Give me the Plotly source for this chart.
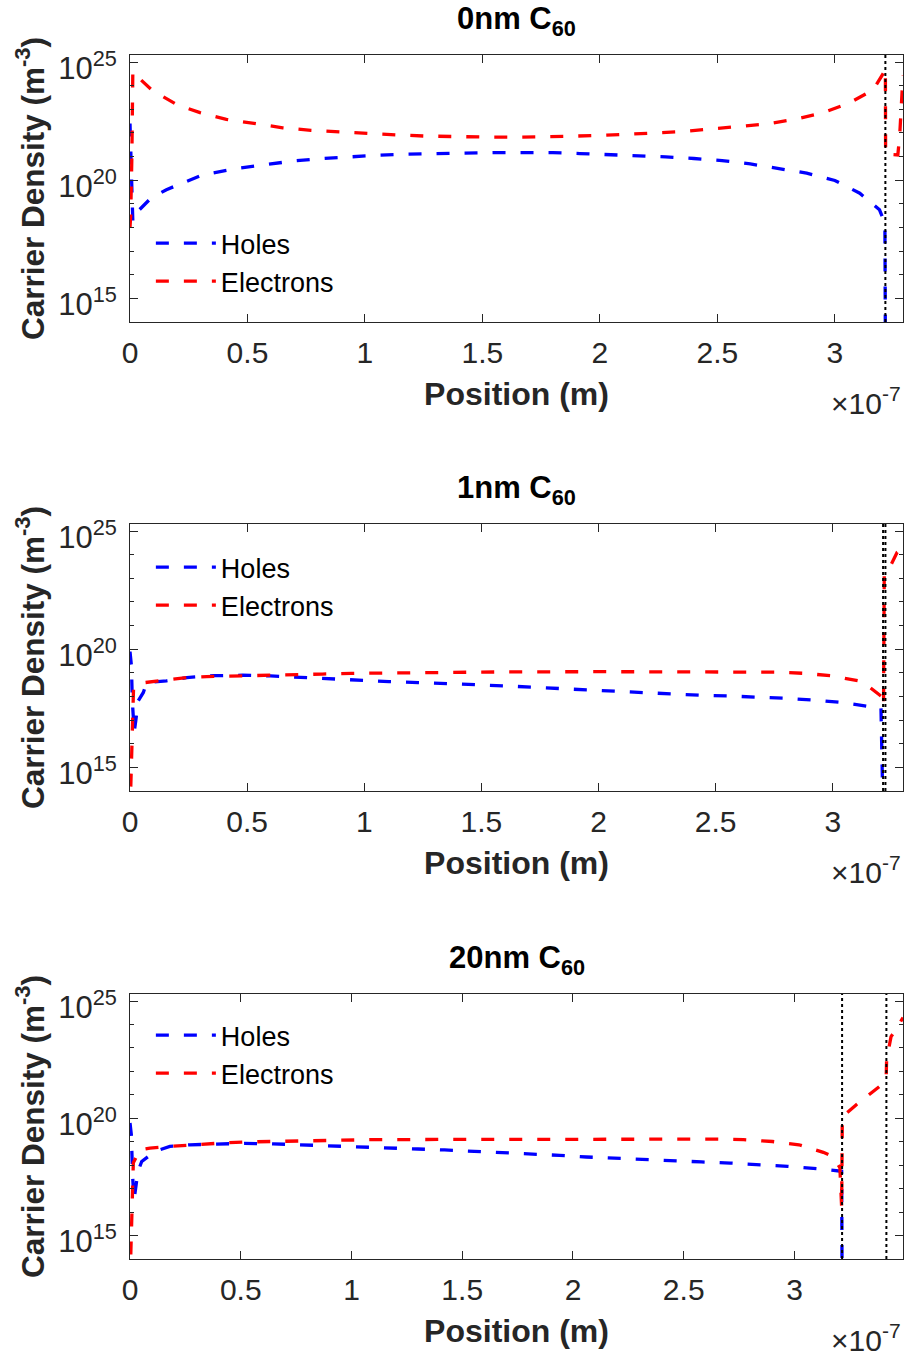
import plotly.graph_objects as go

# ---------------- data (position in nm, density as log10 of m^-3) ----------------
titles = ["0nm C<sub>60</sub>", "1nm C<sub>60</sub>", "20nm C<sub>60</sub>"]
x_max_nm = [329, 330, 349]
boundaries_nm = [[321.5], [321.5, 322.5], [321.5, 341.5]]
x_tick_vals_e7 = [0, 0.5, 1, 1.5, 2, 2.5, 3]
x_tick_text = ["0", "0.5", "1", "1.5", "2", "2.5", "3"]
y_tick_exp = [15, 20, 25]
y_minor_exp = [16, 17, 18, 19, 21, 22, 23, 24]

# 0 nm C60
holes0_x = [0, 0.4, 0.8, 1.2, 4, 9, 15.5, 22.5, 31, 46, 58, 70, 82, 94, 106, 118, 130, 143, 155,
            167, 180, 191.5, 203.5, 216, 228, 240, 252, 264, 276, 288, 300, 310.6, 319, 321.3, 321.5]
holes0_log = [22.4, 20.8, 19.0, 18.25, 18.75, 19.25, 19.6, 19.9, 20.23, 20.51, 20.68, 20.82, 20.92,
              21.0, 21.06, 21.10, 21.13, 21.16, 21.17, 21.17, 21.17, 21.13, 21.09, 21.05, 20.99,
              20.92, 20.83, 20.69, 20.51, 20.30, 19.99, 19.45, 18.75, 18.18, 13.0]
elec0_x = [0, 0.3, 0.8, 1.2, 3, 9.5, 20, 29.8, 41, 53, 65, 77, 89, 101, 113.5, 125.5, 137.5, 150,
           162, 174.5, 186, 199, 211, 223, 235, 247, 259, 271, 283, 295, 306, 316.3, 320.6, 321.5,
           321.6, 326.8, 327.6, 328.2, 329]
elec0_log = [18.0, 18.5, 21.0, 24.6, 24.4, 23.8, 23.2, 22.86, 22.58, 22.41, 22.22, 22.11, 22.04,
             21.97, 21.92, 21.87, 21.84, 21.83, 21.82, 21.83, 21.86, 21.89, 21.93, 22.0, 22.06,
             22.16, 22.25, 22.38, 22.58, 22.86, 23.26, 23.82, 24.52, 24.73, 21.10, 21.07, 21.9,
             23.0, 24.45]

# 1 nm C60
holes1_x = [0, 0.6, 1.0, 1.8, 2.5, 3.5, 5.7, 7.1, 15.6, 24.2, 35.6, 48, 60, 73.6, 86, 98, 110.6,
            123, 135.3, 147.7, 160, 172, 184.7, 196, 208.5, 220, 231, 243.6, 256, 268.4, 280.7,
            293, 304.4, 316.8, 320.6, 321.5]
holes1_log = [19.9, 19.3, 17.8, 16.5, 17.0, 17.81, 18.17, 18.59, 18.66, 18.80, 18.88, 18.90, 18.87,
              18.80, 18.74, 18.69, 18.63, 18.59, 18.55, 18.50, 18.45, 18.39, 18.33, 18.26, 18.21,
              18.14, 18.09, 18.05, 18.02, 17.98, 17.92, 17.84, 17.74, 17.56, 17.50, 13.0]
elec1_x = [0, 0.5, 1.0, 1.5, 3, 6.5, 15.6, 24.2, 32.7, 45, 57.4, 69.8, 82, 94.5, 106.8, 119, 131.5,
           160, 200, 240, 267, 276, 288, 300, 311, 315, 320.6, 321.7, 322.0, 325, 327.5, 330]
elec1_log = [13.0, 14.5, 16.5, 18.3, 18.5, 18.59, 18.70, 18.80, 18.84, 18.86, 18.90, 18.93, 18.95,
             18.98, 18.99, 19.01, 19.03, 19.04, 19.05, 19.05, 19.05, 19.03, 18.98, 18.87, 18.66,
             18.45, 18.02, 17.6, 23.2, 23.6, 24.1, 24.3]

# 20 nm C60
holes20_x = [0, 0.6, 1.2, 1.8, 3.6, 5.3, 11.3, 18, 27, 37.4, 51.6, 64.7, 77.7, 90.8, 104, 117, 130,
             142, 155, 168, 181, 194, 206, 219, 233, 245.6, 258, 271, 284, 297, 310, 319, 321.3,
             321.5]
holes20_log = [19.8, 19.3, 17.5, 16.5, 17.74, 18.16, 18.59, 18.80, 18.87, 18.91, 18.93, 18.91,
               18.86, 18.83, 18.79, 18.73, 18.69, 18.65, 18.60, 18.55, 18.49, 18.42, 18.35, 18.29,
               18.23, 18.18, 18.14, 18.09, 18.03, 17.95, 17.85, 17.77, 17.74, 13.0]
elec20_x = [0, 0.5, 1.0, 1.5, 4.5, 9, 18, 31.6, 43.6, 57.7, 71.7, 83.8, 98, 110, 150, 200, 265, 277,
            290, 302, 313, 317.3, 320.5, 321.3, 321.6, 327.8, 338.3, 341.4, 341.6, 343.6, 346.6,
            349]
elec20_log = [13.0, 15.0, 17.0, 18.1, 18.66, 18.73, 18.80, 18.90, 18.96, 19.0, 19.03, 19.06, 19.07,
              19.09, 19.10, 19.11, 19.11, 19.09, 19.01, 18.87, 18.55, 18.37, 17.9, 16.2, 20.06,
              20.57, 21.35, 21.7, 22.5, 23.48, 23.9, 24.3]

panels = [
    (holes0_x, holes0_log, elec0_x, elec0_log),
    (holes1_x, holes1_log, elec1_x, elec1_log),
    (holes20_x, holes20_log, elec20_x, elec20_log),
]

# ---------------- layout geometry ----------------
W, H = 904, 1356
ML, MR = 130, 1
rows_px = [(55, 322), (524, 791), (994, 1259)]  # top, bottom of each plot area
legend_top_px = [219, 543, 1011]
y_range = [14.0, 25.3]
FONT = "Liberation Sans, Arial, Helvetica, sans-serif"
AX = "#262626"
BLUE = "#0000FF"
RED = "#FF0000"
DASH = "13px,15px"

fig = go.Figure()
annotations = []
shapes = []
layout = dict(
    width=W, height=H,
    margin=dict(l=ML, r=MR, t=0, b=0, pad=0, autoexpand=False),
    paper_bgcolor="white", plot_bgcolor="white",
    font=dict(family=FONT, size=30, color=AX),
    showlegend=True,
)

for i, (hx, hl, ex, el) in enumerate(panels):
    sfx = "" if i == 0 else str(i + 1)
    xa, ya = "x" + sfx, "y" + sfx
    leg = "legend" + sfx
    top, bot = rows_px[i]
    dom = [1 - bot / H, 1 - top / H]

    fig.add_trace(go.Scatter(
        x=[v * 1e-9 for v in hx], y=[10.0 ** v for v in hl], mode="lines", name="Holes",
        line=dict(color=BLUE, width=3.3, dash=DASH), xaxis=xa, yaxis=ya, legend=leg))
    fig.add_trace(go.Scatter(
        x=[v * 1e-9 for v in ex], y=[10.0 ** v for v in el], mode="lines", name="Electrons",
        line=dict(color=RED, width=3.3, dash=DASH), xaxis=xa, yaxis=ya, legend=leg))

    layout["xaxis" + sfx] = dict(
        domain=[0, 1], anchor=ya, range=[0, x_max_nm[i] * 1e-9], automargin=False,
        tickmode="array", tickvals=[v * 1e-7 for v in x_tick_vals_e7], ticktext=x_tick_text,
        ticks="inside", ticklen=8, tickwidth=1, tickcolor=AX,
        showline=True, linecolor=AX, linewidth=1, mirror="ticks",
        showgrid=False, zeroline=False,
        tickfont=dict(size=30, family=FONT, color=AX), ticklabelstandoff=4,
        title=dict(text="<b>Position (m)</b>", font=dict(size=32, family=FONT, color=AX), standoff=14),
    )
    layout["yaxis" + sfx] = dict(
        domain=dom, anchor=xa, type="log", range=y_range, automargin=False,
        tickmode="array", tickvals=[10.0 ** e for e in y_tick_exp],
        ticktext=["10<sup>%d</sup>" % e for e in y_tick_exp],
        ticks="inside", ticklen=8, tickwidth=1, tickcolor=AX,
        minor=dict(tickmode="array", tickvals=[10.0 ** e for e in y_minor_exp], ticks="inside",
                   ticklen=4, tickwidth=1, tickcolor=AX, showgrid=False),
        showline=True, linecolor=AX, linewidth=1, mirror="ticks",
        showgrid=False, zeroline=False,
        tickfont=dict(size=31, family=FONT, color=AX), ticklabelstandoff=6, ticklabelshift=6,
        title=dict(text="<b>Carrier Density (m<sup>-3</sup>)</b>",
                   font=dict(size=31.5, family=FONT, color=AX), standoff=4),
    )
    layout[leg] = dict(
        x=0.027, y=1 - legend_top_px[i] / H,
        xanchor="left", yanchor="top", bgcolor="rgba(0,0,0,0)", borderwidth=0,
        font=dict(size=27, family=FONT, color="black"), itemwidth=60, traceorder="normal",
    )
    # panel title
    annotations.append(dict(
        text="<b>%s</b>" % titles[i], xref="paper", yref="paper", x=0.5, y=1 - top / H,
        xanchor="center", yanchor="bottom", yshift=12, showarrow=False,
        font=dict(size=31, family=FONT, color="black")))
    # exponent label
    annotations.append(dict(
        text="\u00d710<sup>-7</sup>", xref="paper", yref="paper", x=1, y=1 - bot / H,
        xanchor="right", yanchor="top", yshift=-58, showarrow=False,
        font=dict(size=30, family=FONT, color=AX)))
    # layer boundaries
    for b in boundaries_nm[i]:
        shapes.append(dict(
            type="line", xref=xa, yref=ya + " domain", x0=b * 1e-9, x1=b * 1e-9, y0=0, y1=1,
            line=dict(color="black", width=2, dash="dot"), layer="above"))

layout["annotations"] = annotations
layout["shapes"] = shapes
fig.update_layout(**layout)
fig.write_html("out.html")
